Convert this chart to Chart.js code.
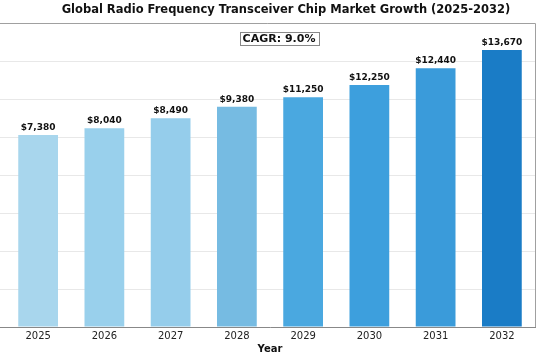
<!DOCTYPE html>
<html>
<head>
<meta charset="utf-8">
<script src="https://cdn.jsdelivr.net/npm/chart.js@4"></script>
<style>
  html, body { margin: 0; padding: 0; background: #fff; }
  #wrap { width: 540px; height: 360px; }
</style>
</head>
<body>
<div id="wrap"><canvas id="growthChart" width="540" height="360"></canvas></div>
<script>
// data
const years = ['2025', '2026', '2027', '2028', '2029', '2030', '2031', '2032'];
const barValues = [9980, 10330, 10850, 11450, 11940, 12580, 13450, 14400];
const valueLabels = ['$7,380', '$8,040', '$8,490', '$9,380', '$11,250', '$12,250', '$12,440', '$13,670'];
const barColors = ['#a8d6ed', '#99d0ec', '#95cdeb', '#76bbe2', '#4aa8e0', '#3d9fdd', '#3a9bda', '#1a7cc6'];
const chartTitle = 'Global Radio Frequency Transceiver Chip Market Growth (2025-2032)';
const cagrText = 'CAGR: 9.0%';

const FONT = "'DejaVu Sans', sans-serif";

const decorations = {
  id: 'decorations',
  beforeDatasetsDraw(chart) {
    // the plot runs past the left edge, so carry grid + axis lines to x=0
    const ctx = chart.ctx;
    const area = chart.chartArea;
    const y = chart.scales.y;
    ctx.save();
    ctx.lineWidth = 1;
    y.ticks.forEach(function (t) {
      const py = Math.round(y.getPixelForValue(t.value)) + 0.5;
      ctx.strokeStyle = t.value === 0 ? '#888' : '#e8e8e8';
      ctx.beginPath();
      ctx.moveTo(0, py);
      ctx.lineTo(area.left + 1, py);
      ctx.stroke();
    });
    ctx.restore();
  },
  afterDatasetsDraw(chart) {
    const ctx = chart.ctx;
    const area = chart.chartArea;
    const meta = chart.getDatasetMeta(0);
    ctx.save();

    // value labels above bars
    ctx.font = 'bold 9px ' + FONT;
    ctx.fillStyle = '#111';
    ctx.textAlign = 'center';
    ctx.textBaseline = 'bottom';
    meta.data.forEach(function (bar, i) {
      ctx.fillText(valueLabels[i], bar.x, bar.y - 3);
    });

    // frame top + right
    ctx.strokeStyle = '#a0a0a0';
    ctx.lineWidth = 1;
    ctx.beginPath();
    ctx.moveTo(0, Math.round(area.top) + 0.5);
    ctx.lineTo(Math.round(area.right) + 0.5, Math.round(area.top) + 0.5);
    ctx.lineTo(Math.round(area.right) + 0.5, Math.round(area.bottom));
    ctx.stroke();

    // title
    ctx.font = 'bold 11.5px ' + FONT;
    ctx.fillStyle = '#111';
    ctx.textBaseline = 'middle';
    ctx.fillText(chartTitle, 286, 10.5);

    // CAGR box
    ctx.font = 'bold 11px ' + FONT;
    const w = ctx.measureText(cagrText).width;
    const cx = 279, cy = 39;
    ctx.fillStyle = '#fff';
    ctx.fillRect(cx - w / 2 - 3, cy - 7, w + 6, 14);
    ctx.strokeStyle = '#888';
    ctx.strokeRect(Math.round(cx - w / 2 - 3) + 0.5, cy - 6.5, Math.round(w + 6), 13);
    ctx.fillStyle = '#111';
    ctx.fillText(cagrText, cx, cy + 0.5);

    ctx.restore();
  }
};

new Chart(document.getElementById('growthChart'), {
  type: 'bar',
  data: {
    labels: years,
    datasets: [{
      data: barValues,
      backgroundColor: barColors,
      borderWidth: 0,
      barPercentage: 0.6,
      categoryPercentage: 1.0
    }]
  },
  options: {
    responsive: false,
    animation: false,
    layout: { padding: { top: 23, left: 5, right: 5, bottom: 5 } },
    plugins: {
      legend: { display: false },
      tooltip: { enabled: false }
    },
    scales: {
      x: {
        grid: { display: false, drawTicks: false },
        border: { color: '#888', width: 1 },
        ticks: { color: '#222', padding: 3, font: { family: FONT, size: 10 } },
        title: {
          display: true,
          text: 'Year',
          color: '#111',
          padding: { top: -2, bottom: 0 },
          font: { family: FONT, size: 10, weight: 'bold' }
        }
      },
      y: {
        min: 0,
        max: 15800,
        border: { display: false },
        grid: { color: '#e8e8e8', drawTicks: false },
        ticks: { display: false, stepSize: 2000 },
        afterFit: function (scale) { scale.width = 0; }
      }
    }
  },
  plugins: [decorations]
});
</script>
</body>
</html>
